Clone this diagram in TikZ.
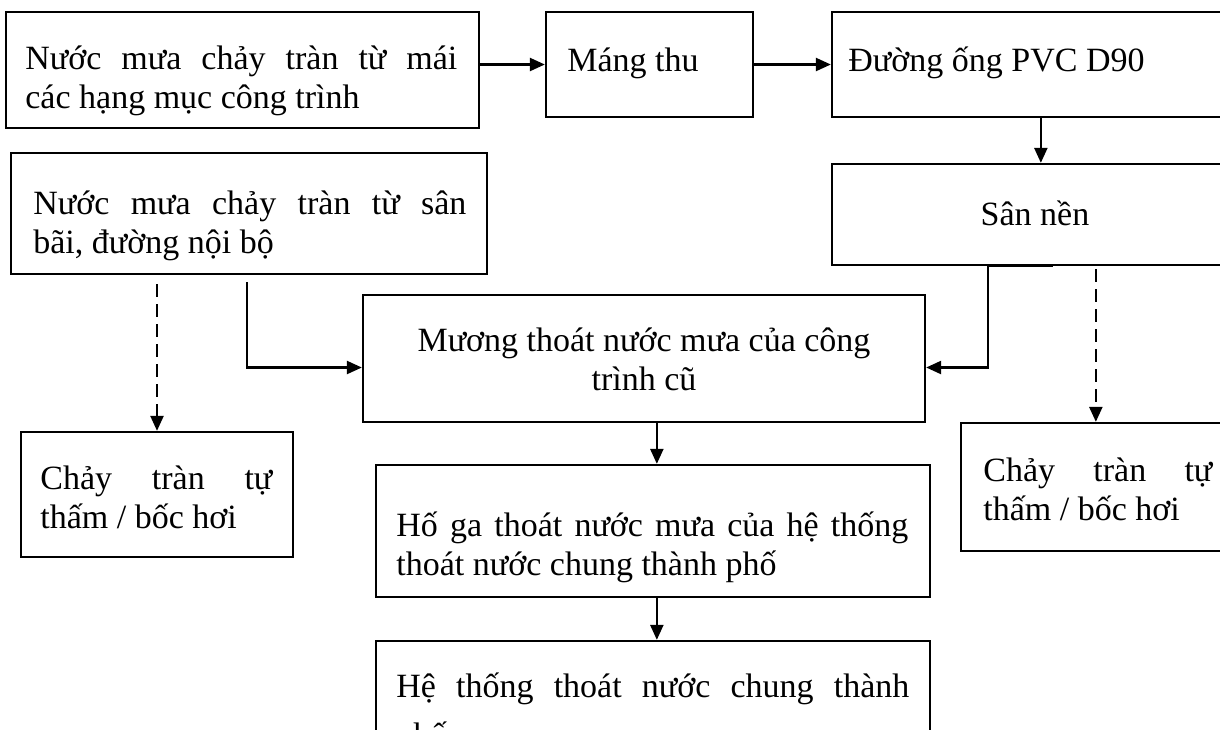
\documentclass[tikz,border=0pt]{standalone}
\usepackage{fontspec}
\setmainfont{Liberation Serif}
\usetikzlibrary{arrows.meta,fit}
\newcommand{\twolines}[2]{\vtop{\hbox{#1}\hbox{#2}}}
\newcommand{\ctrlines}[3]{\vtop{\hbox to #1{\hfil#2\hfil}\hbox to #1{\hfil#3\hfil}}}
\begin{document}
\begin{tikzpicture}[x=0.5pt,y=-0.5pt,
  box/.style={draw, line width=1.15pt, inner sep=0pt},
  txt/.style={inner sep=0pt, font=\fontsize{17pt}{19.5pt}\selectfont, anchor=base west},
  flow/.style={line width=1.15pt, -{Triangle[length=7.5pt,width=6.5pt]}},
  dashflow/.style={flow, dash pattern=on 6.5pt off 3.5pt}]
\useasboundingbox (0,0) rectangle (1220,729);
\clip (0,0) rectangle (1220,729);
% boxes
\node[box, fit={(6,12) (479,128)}] (A) {};
\node[box, fit={(546,12) (753,117)}] (B) {};
\node[box, fit={(832,12) (1250,117)}] (C) {};
\node[box, fit={(832,164) (1250,265)}] (S) {};
\node[box, fit={(11,153) (487,274)}] (D) {};
\node[box, fit={(363,295) (925,422)}] (F) {};
\node[box, fit={(21,432) (293,557)}] (E) {};
\node[box, fit={(961,423) (1250,551)}] (G) {};
\node[box, fit={(376,465) (930,597)}] (H) {};
\node[box, fit={(376,641) (930,780)}] (I) {};
% texts
\node[txt] (At) at (25,69) {\twolines{\makebox[216pt][s]{Nước mưa chảy tràn từ mái}}{các hạng mục công trình}};
\node[txt] (Bt) at (567,71) {Máng thu};
\node[txt] (Ct) at (848,71) {Đường ống PVC D90};
\node[txt, anchor=base] (St) at (1035,225) {Sân nền};
\node[txt] (Dt) at (33,214) {\twolines{\makebox[216.5pt][s]{Nước mưa chảy tràn từ sân}}{bãi, đường nội bộ}};
\node[txt, anchor=base] (Ft) at (644,351) {\ctrlines{250pt}{Mương thoát nước mưa của công}{trình cũ}};
\node[txt] (Et) at (40,489) {\twolines{\makebox[116pt][s]{Chảy tràn tự}}{thấm / bốc hơi}};
\node[txt] (Gt) at (983,481) {\twolines{\makebox[114.5pt][s]{Chảy tràn tự}}{thấm / bốc hơi}};
\node[txt] (Ht) at (396,536) {\twolines{\makebox[256pt][s]{Hố ga thoát nước mưa của hệ thống}}{thoát nước chung thành phố}};
\node[txt] (It) at (396,697) {\vtop{\hbox{\makebox[256.5pt][s]{Hệ thống thoát nước chung thành}}\vskip 5pt\hbox{phố}}};
% connectors
\draw[flow] (B.west -| A.east) -- (B.west);
\draw[flow] (B.east) -- (C.west);
\draw[flow] ([xshift=105pt]C.south west) -- ([xshift=105pt]S.north west);
\draw[flow] ([xshift=118.5pt,yshift=-3.5pt]D.south west) |- ([yshift=-4.5pt]F.west);
\draw[dashflow] ([yshift=-4.5pt]D.south -| E.north) -- (E.north);
\draw[flow] ([xshift=111pt]S.south west) -- ([xshift=78.5pt]S.south west) |- ([yshift=-4.5pt]F.east);
\draw[dashflow] ([xshift=132.5pt,yshift=-1.5pt]S.south west) -- ([xshift=68pt]G.north west);
\draw[flow] ([xshift=147.5pt]F.south west) -- ([xshift=141pt]H.north west);
\draw[flow] ([xshift=141pt]H.south west) -- ([xshift=141pt]I.north west);
\end{tikzpicture}
\end{document}
